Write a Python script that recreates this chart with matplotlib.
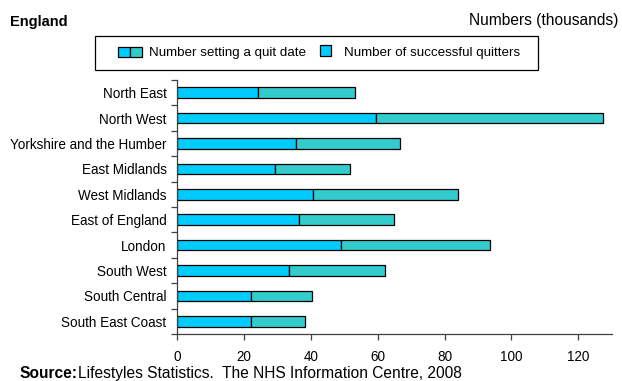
#!/usr/bin/env python3

import matplotlib
matplotlib.use("Agg")
import matplotlib.pyplot as plt
from matplotlib.patches import Rectangle
from matplotlib.legend_handler import HandlerTuple, HandlerPatch

# Regions, top to bottom
regions = [
    "North East", "North West", "Yorkshire and the Humber", "East Midlands",
    "West Midlands", "East of England", "London", "South West",
    "South Central", "South East Coast",
]

# Numbers in thousands
quitters = [24.3, 59.5, 35.7, 29.3, 40.6, 36.4, 49.1, 33.5, 22.2, 22.2]
quit_date = [53.1, 127.4, 66.7, 51.8, 83.9, 64.8, 93.7, 62.3, 40.5, 38.4]

x_ticks = [0, 20, 40, 60, 80, 100, 120]

blue = "#00CCFF"
teal = "#33CCCC"

W, H = 622, 381


def square_patch(legend, orig_handle, xdescent, ydescent, width, height, fontsize):
    # narrow square marker for the single colour entry
    side = height
    return Rectangle((xdescent + (width - side) / 2, ydescent), side, side)


def main():
    plt.rcParams["font.family"] = ["Liberation Sans", "DejaVu Sans"]
    plt.rcParams["font.size"] = 9.75

    fig = plt.figure(figsize=(W / 100, H / 100), dpi=100)
    ax = fig.add_axes([177 / W, 1 - 334 / H, (611.7 - 177) / W, (334 - 80) / H])

    pos = list(range(len(regions)))
    rest = [t - q for t, q in zip(quit_date, quitters)]

    ax.barh(pos, quitters, height=0.41, color=blue, edgecolor="black", linewidth=0.9)
    ax.barh(pos, rest, left=quitters, height=0.41, color=teal, edgecolor="black", linewidth=0.9)

    ax.set_ylim(len(regions) - 0.5, -0.5)
    ax.set_xlim(0, 130)

    ax.set_yticks(pos)
    ax.set_yticklabels(regions)
    ax.set_yticks([p - 0.5 for p in range(len(regions) + 1)], minor=True)
    ax.tick_params(axis="y", which="major", length=0, pad=7.5)
    ax.tick_params(axis="y", which="minor", length=4, width=0.9, color="#404040")

    ax.set_xticks(x_ticks)
    ax.tick_params(axis="x", length=4, width=0.9, color="#404040", pad=7.5)

    for side in ["top", "right"]:
        ax.spines[side].set_visible(False)
    for side in ["left", "bottom"]:
        ax.spines[side].set_color("#404040")
        ax.spines[side].set_linewidth(0.9)

    # Legend box drawn by hand, entries placed inside it
    fig.patches.append(Rectangle((95 / W, 1 - 70 / H), (538 - 95) / W, 34 / H,
                                 transform=fig.transFigure, facecolor="white",
                                 edgecolor="black", linewidth=0.9))
    h_blue = Rectangle((0, 0), 1, 1, facecolor=blue, edgecolor="black", linewidth=0.9)
    h_teal = Rectangle((0, 0), 1, 1, facecolor=teal, edgecolor="black", linewidth=0.9)
    h_single = Rectangle((0, 0), 1, 1, facecolor=blue, edgecolor="black", linewidth=0.9)
    fig.legend(
        [(h_blue, h_teal), h_single],
        ["Number setting a quit date", "Number of successful quitters"],
        handler_map={tuple: HandlerTuple(ndivide=None, pad=0),
                     h_single: HandlerPatch(patch_func=square_patch)},
        loc="center left", bbox_to_anchor=(118 / W, 1 - 53 / H), ncol=2,
        frameon=False, borderpad=0, borderaxespad=0,
        handlelength=1.82, handleheight=0.85, handletextpad=0.5,
        columnspacing=0.55, fontsize=9.6,
    )

    fig.text(10 / W, 1 - 22 / H, "England", fontweight="bold", fontsize=10.5, va="center")
    fig.text(618 / W, 1 - 21 / H, "Numbers (thousands)", fontsize=11.2, va="center", ha="right")
    fig.text(19 / W, 1 - 373.5 / H, "Source:", fontweight="bold", fontsize=11.2, va="center")
    fig.text(78 / W, 1 - 373.5 / H, "Lifestyles Statistics.  The NHS Information Centre, 2008",
             fontsize=11.2, va="center")

    fig.savefig("out.png", dpi=100)
    plt.close(fig)


if __name__ == "__main__":
    main()
